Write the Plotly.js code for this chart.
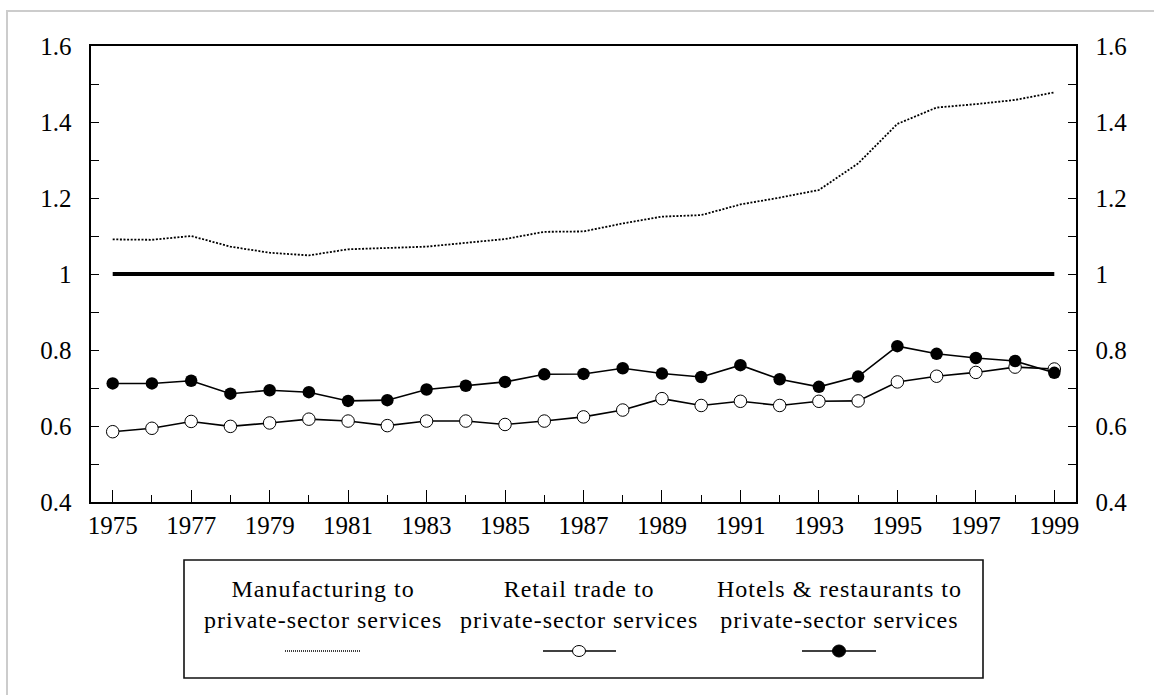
<!DOCTYPE html>
<html>
<head>
<meta charset="utf-8">
<script src="https://cdn.plot.ly/plotly-3.0.1.min.js"></script>
<style>
html,body{margin:0;padding:0;background:#fff;}
#chart{width:1154px;height:695px;}
.annotation-text{letter-spacing:1px;}
</style>
</head>
<body>
<div id="chart"></div>
<script>
// ---- data ----
const years = [1975,1976,1977,1978,1979,1980,1981,1982,1983,1984,1985,1986,1987,1988,1989,1990,1991,1992,1993,1994,1995,1996,1997,1998,1999];
const manufacturing = [1.091,1.090,1.100,1.072,1.056,1.049,1.065,1.068,1.072,1.082,1.092,1.111,1.112,1.133,1.151,1.155,1.183,1.201,1.221,1.291,1.395,1.438,1.447,1.458,1.478];
const retail = [0.585,0.594,0.612,0.599,0.608,0.618,0.613,0.601,0.613,0.613,0.604,0.613,0.624,0.642,0.672,0.654,0.665,0.654,0.665,0.666,0.716,0.731,0.741,0.755,0.750];
const hotels = [0.712,0.712,0.719,0.685,0.694,0.689,0.666,0.668,0.696,0.706,0.716,0.736,0.737,0.752,0.738,0.729,0.760,0.723,0.703,0.730,0.810,0.790,0.779,0.771,0.740];
const parity = years.map(() => 1);
const yTickVals = [0.4, 0.6, 0.8, 1, 1.2, 1.4, 1.6];
const yTickText = ["0.4", "0.6", "0.8", "1", "1.2", "1.4", "1.6"];
const seriesNames = ["Manufacturing to<br>private-sector services",
                     "Retail trade to<br>private-sector services",
                     "Hotels &amp; restaurants to<br>private-sector services"];

// ---- layout helpers (pixel -> paper) ----
const ML = 91, MR = 78, MT = 46, MB = 193, W = 1154, H = 695;
const PW = W - ML - MR, PH = H - MT - MB;
const px = x => (x - ML) / PW;
const py = y => (H - MB - y) / PH;

const FONT = "'Liberation Serif', 'Times New Roman', serif";

const traces = [
  {x: years, y: manufacturing, name: "Manufacturing", type: "scatter", mode: "lines",
   line: {color: "#000", width: 1.8, dash: "2px,1.6px"}, showlegend: false},
  {x: years, y: parity, name: "Parity", type: "scatter", mode: "lines",
   line: {color: "#000", width: 4}, showlegend: false},
  {x: years, y: retail, name: "Retail trade", type: "scatter", mode: "lines+markers",
   line: {color: "#000", width: 1.6},
   marker: {symbol: "circle", size: 12.5, color: "#fff", line: {color: "#000", width: 1}}, showlegend: false},
  {x: years, y: hotels, name: "Hotels & restaurants", type: "scatter", mode: "lines+markers",
   line: {color: "#000", width: 1.6},
   marker: {symbol: "circle", size: 12.5, color: "#000"}, showlegend: false},
  // invisible trace to carry the right-hand axis
  {x: [years[0]], y: [1], yaxis: "y2", type: "scatter", mode: "markers",
   marker: {opacity: 0}, showlegend: false, hoverinfo: "skip"}
];

const yCommon = {
  range: [0.4, 1.6],
  tickmode: "array", tickvals: yTickVals,
  ticks: "inside", ticklen: 8, tickwidth: 1, tickcolor: "#000",
  minor: {dtick: 0.1, tick0: 0.4, ticks: "inside", ticklen: 8, tickwidth: 1, tickcolor: "#000"},
  showline: true, linecolor: "#000", linewidth: 2,
  showgrid: false, zeroline: false,
  tickfont: {family: FONT, size: 25, color: "#000"},
  fixedrange: true
};

const legendCenters = [322.5, 579, 839];

const annotations = seriesNames.map((t, i) => ({
  xref: "paper", yref: "paper", x: px(legendCenters[i]), y: py(604),
  xanchor: "center", yanchor: "middle", showarrow: false, align: "center",
  text: t, font: {family: FONT, size: 24, color: "#000"}
}));

const sampleY = py(651);
const shapes = [
  // outer frame
  {type: "rect", xref: "paper", yref: "paper", x0: px(7), x1: px(1170), y0: py(711), y1: py(11),
   line: {color: "#cccccc", width: 2}, layer: "below"},
  // legend box
  {type: "rect", xref: "paper", yref: "paper", x0: px(184), x1: px(983), y0: py(678), y1: py(560),
   line: {color: "#111", width: 1.6}},
  // legend samples
  {type: "line", xref: "paper", yref: "paper", x0: px(285), x1: px(361), y0: sampleY, y1: sampleY,
   line: {color: "#000", width: 1.3, dash: "1px,1px"}},
  {type: "line", xref: "paper", yref: "paper", x0: px(543), x1: px(616), y0: sampleY, y1: sampleY,
   line: {color: "#000", width: 1.6}},
  {type: "circle", xref: "paper", yref: "paper", xsizemode: "pixel", ysizemode: "pixel",
   xanchor: px(579), yanchor: sampleY, x0: -6.5, x1: 6.5, y0: -5.5, y1: 5.5,
   fillcolor: "#fff", line: {color: "#000", width: 1}},
  {type: "line", xref: "paper", yref: "paper", x0: px(802), x1: px(876), y0: sampleY, y1: sampleY,
   line: {color: "#000", width: 1.6}},
  {type: "circle", xref: "paper", yref: "paper", xsizemode: "pixel", ysizemode: "pixel",
   xanchor: px(839), yanchor: sampleY, x0: -6.5, x1: 6.5, y0: -6, y1: 6,
   fillcolor: "#000", line: {color: "#000", width: 1}}
];

const layout = {
  width: W, height: H,
  margin: {l: ML, r: MR, t: MT, b: MB, pad: 0},
  paper_bgcolor: "#fff", plot_bgcolor: "#fff",
  showlegend: false,
  font: {family: FONT, color: "#000"},
  xaxis: {
    range: [1974.447, 1999.553], tick0: 1975, dtick: 2,
    ticks: "inside", ticklen: 12, tickwidth: 1, tickcolor: "#000",
    minor: {dtick: 1, tick0: 1975, ticks: "inside", ticklen: 7, tickwidth: 1, tickcolor: "#000"},
    showline: true, mirror: true, linecolor: "#000", linewidth: 2,
    showgrid: false, zeroline: false,
    tickfont: {family: FONT, size: 25, color: "#000"},
    fixedrange: true
  },
  yaxis: Object.assign({}, yCommon, {side: "left", ticktext: yTickText.map(t => t + "\u2002")}),
  yaxis2: Object.assign({}, yCommon, {side: "right", overlaying: "y", ticktext: yTickText.map(t => "\u2002" + t)}),
  annotations: annotations,
  shapes: shapes
};

Plotly.newPlot("chart", traces, layout, {displayModeBar: false, staticPlot: true});
</script>
</body>
</html>
